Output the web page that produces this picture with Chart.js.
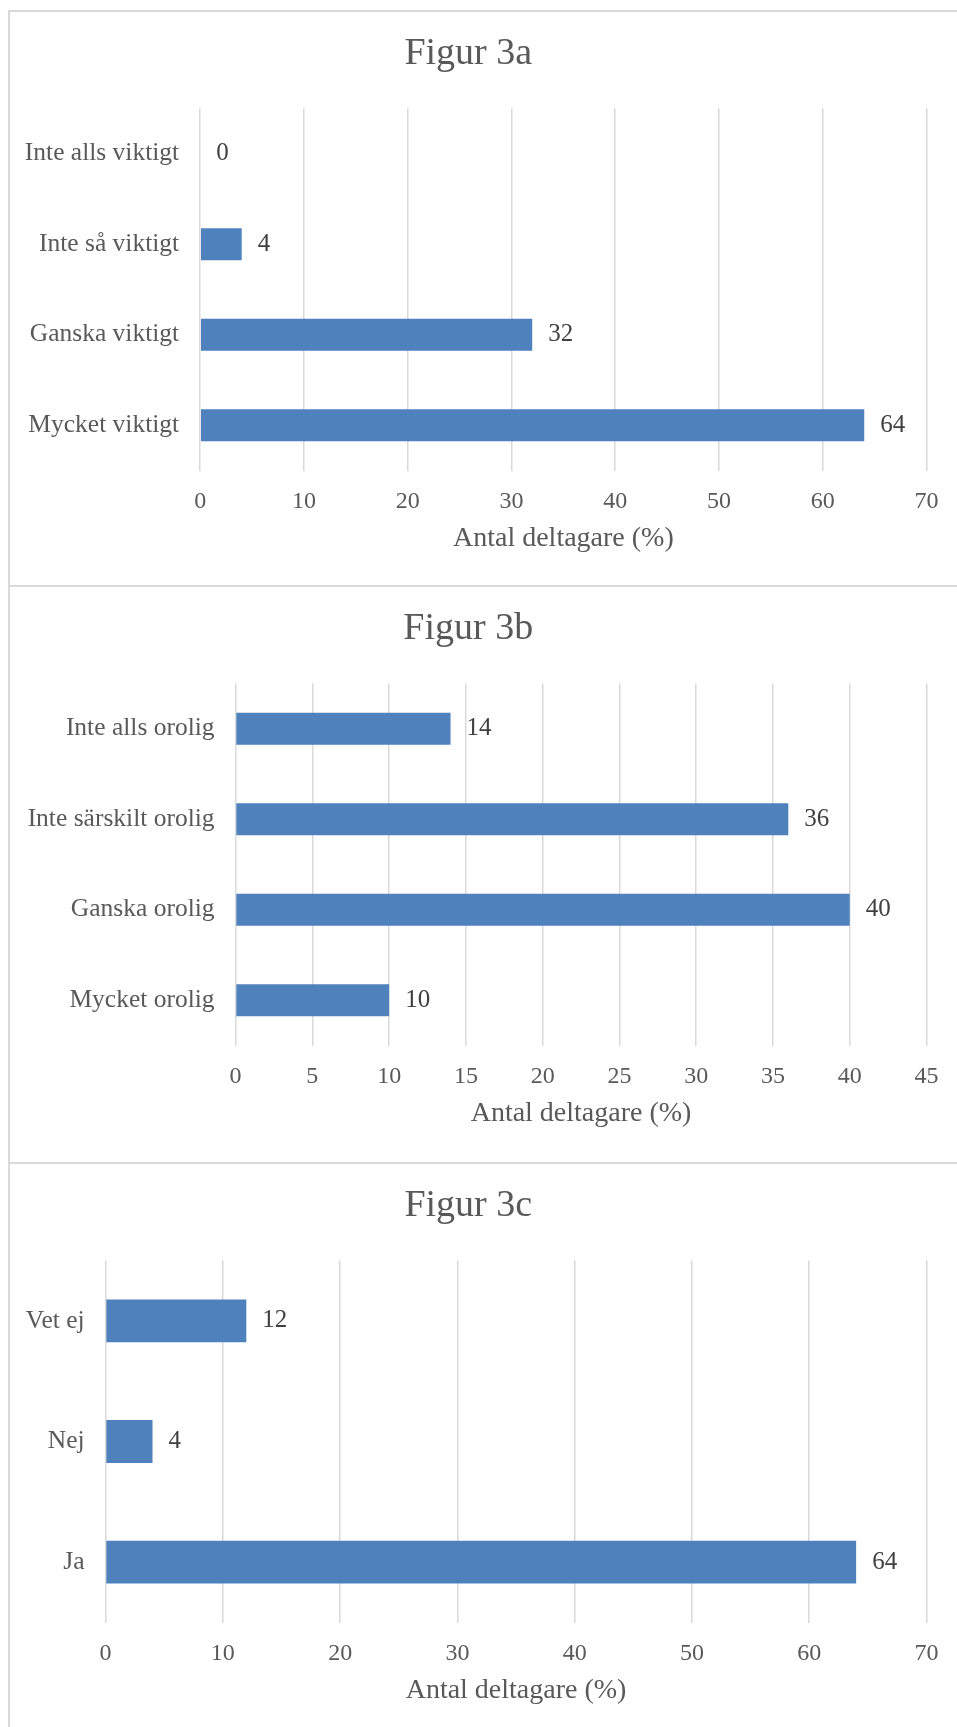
<!DOCTYPE html>
<html>
<head>
<meta charset="utf-8">
<script src="https://cdn.jsdelivr.net/npm/chart.js@4.4.0/dist/chart.umd.min.js"></script>
<style>
  html, body { margin: 0; padding: 0; background: #fff; }
  body { width: 957px; height: 1727px; position: relative; overflow: hidden; }
  .line { position: absolute; background: #d9d9d9; }
  canvas { position: absolute; left: 10px; }
</style>
</head>
<body>
<div class="line" style="left:8px;top:10px;width:2px;height:1717px"></div>
<div class="line" style="left:8px;top:10px;width:949px;height:2px"></div>
<div class="line" style="left:8px;top:585px;width:949px;height:2px"></div>
<div class="line" style="left:8px;top:1162px;width:949px;height:2px"></div>
<canvas id="chartA" width="958" height="573" style="top:12px"></canvas>
<canvas id="chartB" width="958" height="573" style="top:587px"></canvas>
<canvas id="chartC" width="958" height="573" style="top:1164px"></canvas>
<script>
// Figur 3a
const labelsA = ['Inte alls viktigt', 'Inte så viktigt', 'Ganska viktigt', 'Mycket viktigt'];
const valuesA = [0, 4, 32, 64];
// Figur 3b
const labelsB = ['Inte alls orolig', 'Inte särskilt orolig', 'Ganska orolig', 'Mycket orolig'];
const valuesB = [14, 36, 40, 10];
// Figur 3c
const labelsC = ['Vet ej', 'Nej', 'Ja'];
const valuesC = [12, 4, 64];

const axisTitle = 'Antal deltagare (%)';
const serif = '"Liberation Serif", "Times New Roman", serif';
const grey = '#595959';

Chart.defaults.font.family = serif;

// writes the value just past the end of each bar
const valueLabels = {
  id: 'valueLabels',
  afterDatasetsDraw(chart) {
    const ctx = chart.ctx;
    const values = chart.data.datasets[0].data;
    ctx.save();
    ctx.font = '25px ' + serif;
    ctx.fillStyle = '#404040';
    ctx.textAlign = 'left';
    ctx.textBaseline = 'middle';
    chart.getDatasetMeta(0).data.forEach((bar, i) => {
      ctx.fillText(values[i], bar.x + 16, bar.y);
    });
    ctx.restore();
  }
};

function drawChart(id, title, labels, values, xMax, xStep, yWidth) {
  return new Chart(document.getElementById(id), {
    type: 'bar',
    data: {
      labels: labels,
      datasets: [{
        data: values,
        backgroundColor: '#4f81bd',
        categoryPercentage: 1,
        barPercentage: 0.355
      }]
    },
    options: {
      indexAxis: 'y',
      responsive: false,
      animation: false,
      layout: { padding: { left: 0, right: 41.5, top: 0, bottom: 0 } },
      plugins: {
        legend: { display: false },
        tooltip: { enabled: false },
        title: {
          display: true,
          text: title,
          color: grey,
          font: { size: 38, weight: 'normal' },
          padding: { top: 19.7, bottom: 31.2 }
        }
      },
      scales: {
        x: {
          min: 0,
          max: xMax,
          ticks: { stepSize: xStep, color: grey, font: { size: 24 }, padding: 16.6 },
          grid: { color: '#d9d9d9', lineWidth: 1.5, drawTicks: false },
          border: { display: false },
          title: {
            display: true,
            text: axisTitle,
            color: grey,
            font: { size: 28 },
            padding: { top: 0, bottom: 29.7 }
          },
          afterFit: (s) => { s.height = 114.5; }
        },
        y: {
          ticks: { color: grey, font: { size: 25.5 }, padding: 21 },
          grid: { display: false, drawTicks: false },
          border: { display: false },
          afterFit: (s) => { s.width = yWidth; }
        }
      }
    },
    plugins: [valueLabels]
  });
}

drawChart('chartA', 'Figur 3a', labelsA, valuesA, 70, 10, 190.2);
drawChart('chartB', 'Figur 3b', labelsB, valuesB, 45, 5, 225.6);
drawChart('chartC', 'Figur 3c', labelsC, valuesC, 70, 10, 95.6);
</script>
</body>
</html>
